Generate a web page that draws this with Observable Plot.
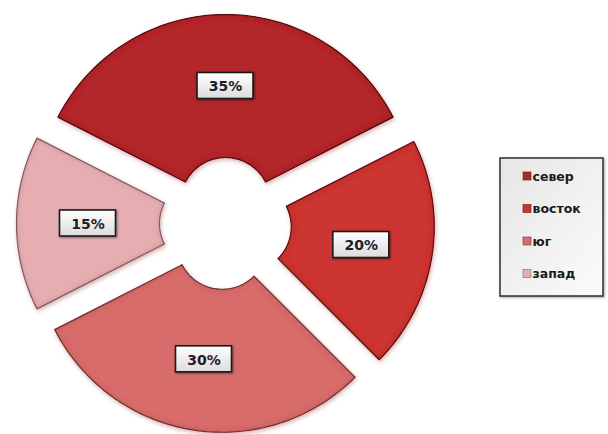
<!DOCTYPE html>
<html><head><meta charset="utf-8">
<script src="https://cdn.jsdelivr.net/npm/d3@7"></script>
<script src="https://cdn.jsdelivr.net/npm/@observablehq/plot@0.6"></script>
<style>
body{margin:0;background:#fff;}
#chart svg{display:block;}
.slice path{filter:url(#bevel);}
.lbox rect{filter:drop-shadow(1px 1px 1px rgba(0,0,0,0.45));}
.legbox rect{filter:drop-shadow(1px 1px 1px rgba(0,0,0,0.35));}
</style></head><body><div id="chart"></div>
<script>
const categories = ["север", "восток", "юг", "запад"];
const values = [35, 20, 30, 15];
const labels = ["35%", "20%", "30%", "15%"];
const colors = ["#b3282b", "#cc3430", "#d86c6b", "#e6aeb1"];
const edgeColors = ["#5a1214", "#651515", "#7c3434", "#8c6266"];

const W = 608, H = 434, CX = 225, CY = 223, R = 188, R0 = 45, EXPLODE = 21;
const total = d3.sum(values);
const start = -Math.PI * values[0] / total;
const arcs = d3.pie().sort(null).startAngle(start).endAngle(start + 2 * Math.PI)(values);

const slices = arcs.map((a, i) => {
  const mid = (a.startAngle + a.endAngle) / 2;
  const ox = CX + EXPLODE * Math.sin(mid), oy = CY - EXPLODE * Math.cos(mid);
  const n = 80, pts = [];
  for (let k = 0; k <= n; k++) {
    const t = a.startAngle + (a.endAngle - a.startAngle) * k / n;
    pts.push({x: ox + R * Math.sin(t), y: oy - R * Math.cos(t)});
  }
  for (let k = n; k >= 0; k--) {
    const t = a.startAngle + (a.endAngle - a.startAngle) * k / n;
    pts.push({x: ox + R0 * Math.sin(t), y: oy - R0 * Math.cos(t)});
  }
  pts.push(pts[0]);
  const lr = (R + R0) / 2;
  return {cat: categories[i], label: labels[i], pts, lx: ox + lr * Math.sin(mid), ly: oy - lr * Math.cos(mid)};
});

const BW = 56, BH = 26;
const legendX = 523, legendY0 = 176, legendStep = 32.5;
const legend = categories.map((c, i) => ({cat: c, i, y: legendY0 + i * legendStep}));

const marks = [];
slices.forEach((s, i) => {
  marks.push(Plot.line(s.pts, {x: "x", y: "y", fill: colors[i], stroke: edgeColors[i], strokeWidth: 1.2, curve: "linear", className: "slice"}));
});
marks.push(Plot.rect(slices, {x1: d => d.lx - BW / 2, x2: d => d.lx + BW / 2, y1: d => d.ly - BH / 2, y2: d => d.ly + BH / 2, fill: "url(#lblgrad)", stroke: "#1a1a1a", strokeWidth: 1.6, className: "lbox"}));
marks.push(Plot.text(slices, {x: "lx", y: "ly", text: "label", fill: "#1c1c2a", fontSize: 14, fontWeight: "bold", fontFamily: "DejaVu Sans", dy: 1}));
// legend
marks.push(Plot.rect([0], {x1: 500, x2: 603, y1: 158, y2: 296, fill: "url(#leggrad)", stroke: "#3a3a3a", strokeWidth: 1.6, className: "legbox"}));
marks.push(Plot.rect(legend, {x1: legendX, x2: legendX + 8, y1: d => d.y - 4, y2: d => d.y + 4, fill: d => colors[d.i], stroke: d => edgeColors[d.i], strokeWidth: 0.6}));
marks.push(Plot.text(legend, {x: legendX + 9, y: "y", text: "cat", textAnchor: "start", fill: "#1a1a1a", fontSize: 12.5, fontWeight: "bold", fontFamily: "DejaVu Sans"}));

const chart = Plot.plot({
  width: W, height: H, margin: 0,
  x: {domain: [0, W], range: [0, W], axis: null},
  y: {domain: [0, H], range: [0, H], axis: null},
  style: {background: "#fff"},
  marks
});
const defs = d3.select(chart).insert("defs", ":first-child");
const g1 = defs.append("linearGradient").attr("id", "lblgrad").attr("x1", 0).attr("y1", 0).attr("x2", 0).attr("y2", 1);
g1.append("stop").attr("offset", "0%").attr("stop-color", "#ffffff");
g1.append("stop").attr("offset", "100%").attr("stop-color", "#dcdcdc");
const g2 = defs.append("linearGradient").attr("id", "leggrad").attr("x1", 0).attr("y1", 0).attr("x2", 1).attr("y2", 1);
g2.append("stop").attr("offset", "0%").attr("stop-color", "#e6e6e6");
g2.append("stop").attr("offset", "100%").attr("stop-color", "#fbfbfb");
const f = defs.append("filter").attr("id", "bevel").attr("x", "-10%").attr("y", "-10%").attr("width", "120%").attr("height", "120%");
f.append("feGaussianBlur").attr("in", "SourceAlpha").attr("stdDeviation", 3).attr("result", "blur");
f.append("feComposite").attr("in", "SourceAlpha").attr("in2", "blur").attr("operator", "arithmetic").attr("k2", 1).attr("k3", -1).attr("result", "edge");
f.append("feFlood").attr("flood-color", "#400000").attr("flood-opacity", 0.45).attr("result", "dark");
f.append("feComposite").attr("in", "dark").attr("in2", "edge").attr("operator", "in").attr("result", "shade");
f.append("feGaussianBlur").attr("in", "SourceAlpha").attr("stdDeviation", 2).attr("result", "sblur");
f.append("feOffset").attr("in", "sblur").attr("dx", 1).attr("dy", 2).attr("result", "soff");
f.append("feFlood").attr("flood-color", "#7a1010").attr("flood-opacity", 0.3).attr("result", "sc");
f.append("feComposite").attr("in", "sc").attr("in2", "soff").attr("operator", "in").attr("result", "shadow");
const m = f.append("feMerge");
m.append("feMergeNode").attr("in", "shadow");
m.append("feMergeNode").attr("in", "SourceGraphic");
m.append("feMergeNode").attr("in", "shade");
document.getElementById("chart").appendChild(chart);
</script></body></html>
